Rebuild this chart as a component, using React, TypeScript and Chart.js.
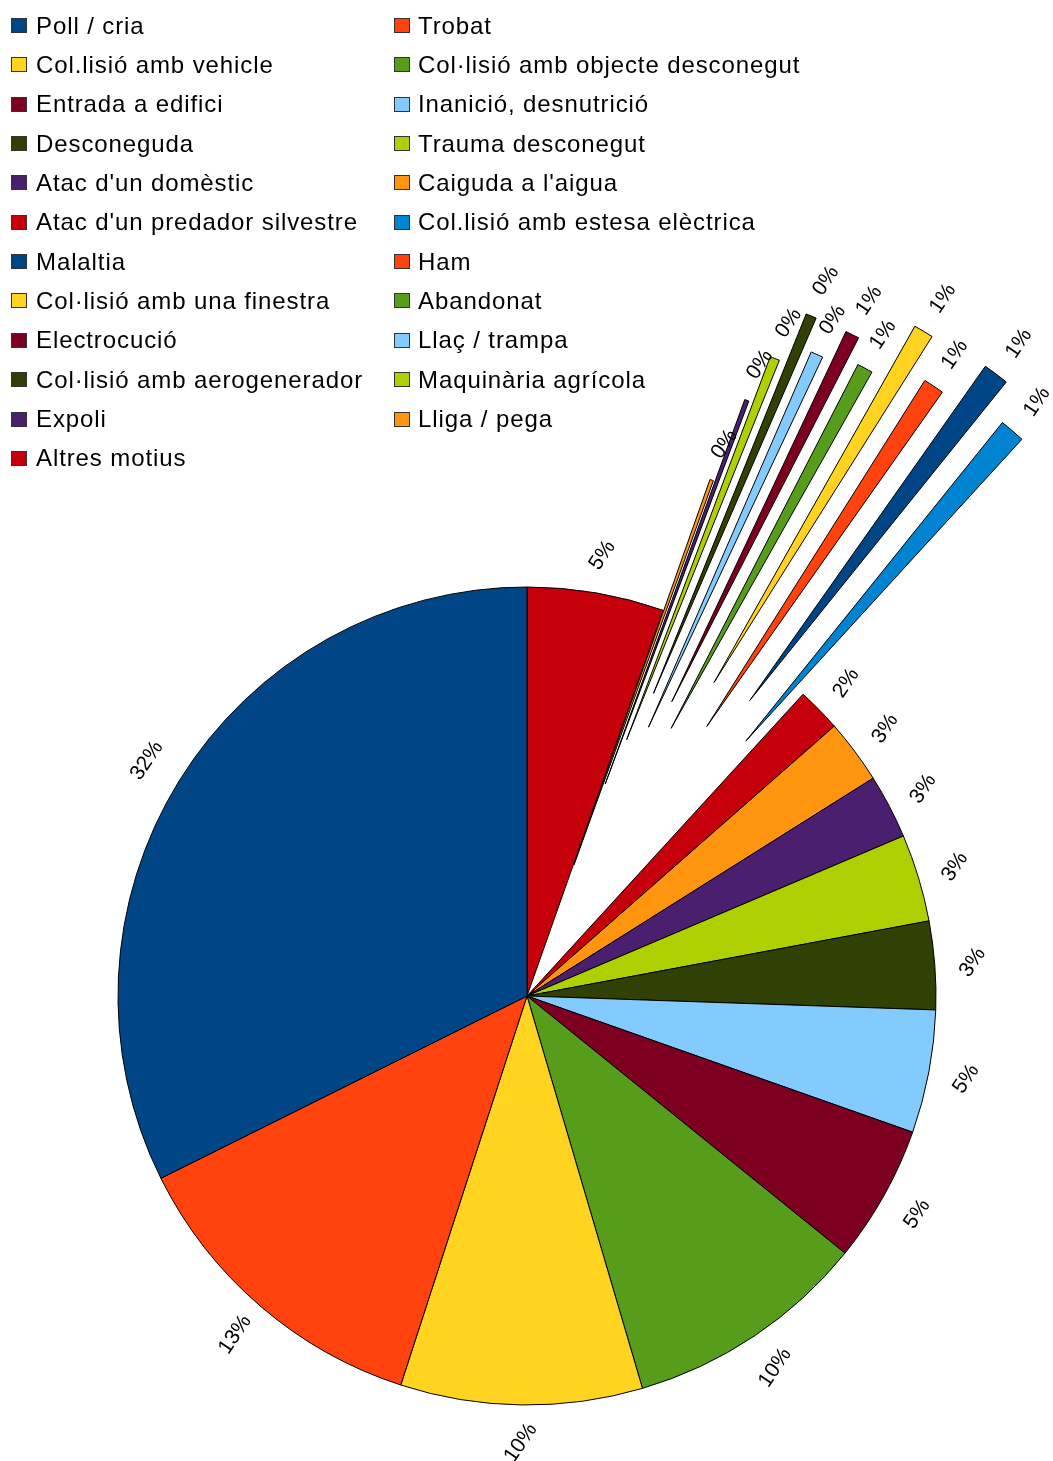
import React, { useEffect, useRef } from "react";
import { Chart, registerables } from "chart.js";

Chart.register(...registerables);

// Categories in legend order (the pie runs counter-clockwise from 12 o'clock in this order)
const categories: string[] = [
  "Poll / cria",
  "Trobat",
  "Col.lisió amb vehicle",
  "Col·lisió amb objecte desconegut",
  "Entrada a edifici",
  "Inanició, desnutrició",
  "Desconeguda",
  "Trauma desconegut",
  "Atac d'un domèstic",
  "Caiguda a l'aigua",
  "Atac d'un predador silvestre",
  "Col.lisió amb estesa elèctrica",
  "Malaltia",
  "Ham",
  "Col·lisió amb una finestra",
  "Abandonat",
  "Electrocució",
  "Llaç / trampa",
  "Col·lisió amb aerogenerador",
  "Maquinària agrícola",
  "Expoli",
  "Lliga / pega",
  "Altres motius",
];

// Shares (%)
const values: number[] = [
  32.35, 12.65, 9.55, 9.62, 5.42, 4.86, 3.48, 3.46, 2.54, 2.53, 1.74,
  1.0, 1.02, 0.82, 0.78, 0.62, 0.55, 0.49, 0.42, 0.38, 0.17, 0.14, 5.4,
];

const colors: string[] = [
  "#004586", "#ff420e", "#ffd320", "#579d1c", "#7e0021", "#83caff",
  "#314004", "#aecf00", "#4b1f6f", "#ff950e", "#c5000b", "#0084d1",
  "#004586", "#ff420e", "#ffd320", "#579d1c", "#7e0021", "#83caff",
  "#314004", "#aecf00", "#4b1f6f", "#ff950e", "#c5000b",
];

// Explosion distance (px) of each slice along its bisector (style)
const explode: number[] = [
  0, 0, 0, 0, 0, 0, 0, 0, 0, 0, 0,
  336, 370, 324, 365, 304, 328, 295, 328, 275, 226, 139, 0,
];

const W = 1053;
const H = 1461;
const PIE_R = 409;
const FONT = '"Liberation Sans", Arial, sans-serif';

export default function App() {
  const ref = useRef<HTMLCanvasElement>(null);

  useEffect(() => {
    const canvas = ref.current;
    if (!canvas) return;
    const n = categories.length;
    const order = categories.map((_, i) => n - 1 - i); // reverse => counter-clockwise look
    const total = values.reduce((a, b) => a + b, 0);
    const dLabels = order.map((i) => categories[i]);
    const dValues = order.map((i) => values[i]);
    const dColors = order.map((i) => colors[i]);
    const dExplode = order.map((i) => explode[i]);

    const explodePlugin = {
      id: "explodeSlices",
      beforeDatasetDraw(chart: any, args: any) {
        const ctx = chart.ctx;
        const meta = args.meta;
        meta.data.forEach((arc: any, j: number) => {
          const d = dExplode[j] || 0;
          const mid = (arc.startAngle + arc.endAngle) / 2;
          ctx.save();
          ctx.translate(Math.cos(mid) * d, Math.sin(mid) * d);
          arc.draw(ctx);
          ctx.restore();
        });
        return false;
      },
    };

    const overlayPlugin = {
      id: "overlay",
      afterDraw(chart: any) {
        const ctx = chart.ctx;
        // percentage labels
        const meta = chart.getDatasetMeta(0);
        ctx.save();
        ctx.font = `21px ${FONT}`;
        ctx.fillStyle = "#000";
        ctx.textAlign = "center";
        ctx.textBaseline = "middle";
        meta.data.forEach((arc: any, j: number) => {
          const mid = (arc.startAngle + arc.endAngle) / 2;
          const dist = (dExplode[j] || 0) + arc.outerRadius + 38;
          const lx = arc.x + Math.cos(mid) * dist;
          const ly = arc.y + Math.sin(mid) * dist;
          ctx.save();
          ctx.translate(lx, ly);
          ctx.rotate((-56 * Math.PI) / 180);
          ctx.fillText(Math.round((dValues[j] / total) * 100) + "%", 0, 0);
          ctx.restore();
        });
        ctx.restore();

        // legend: two columns, row-major
        ctx.save();
        ctx.font = `24px ${FONT}`;
        try { (ctx as any).letterSpacing = "0.9px"; } catch (e) {}
        ctx.textAlign = "left";
        ctx.textBaseline = "alphabetic";
        categories.forEach((name, i) => {
          const row = Math.floor(i / 2);
          const col = i % 2;
          const cy = 25.5 + row * 39.35;
          const bx = col === 0 ? 11 : 394;
          const tx = col === 0 ? 36 : 418;
          ctx.fillStyle = colors[i];
          ctx.fillRect(bx, Math.round(cy - 7.5), 16, 15);
          ctx.strokeStyle = "#333";
          ctx.lineWidth = 1;
          ctx.strokeRect(bx + 0.5, Math.round(cy - 7.5) + 0.5, 15, 14);
          ctx.fillStyle = "#000";
          ctx.fillText(name, tx, cy + 8);
        });
        ctx.restore();
      },
    };

    const chart = new Chart(canvas, {
      type: "pie",
      data: {
        labels: dLabels,
        datasets: [
          {
            data: dValues,
            backgroundColor: dColors,
            borderColor: "#000",
            borderWidth: 1,
            clip: false,
          } as any,
        ],
      },
      options: {
        responsive: false,
        animation: false,
        radius: PIE_R,
        events: [],
        layout: { padding: { left: 1, right: 0, top: 531, bottom: 0 } },
        plugins: {
          legend: { display: false },
          tooltip: { enabled: false },
        },
      } as any,
      plugins: [explodePlugin, overlayPlugin],
    });
    return () => chart.destroy();
  }, []);

  return (
    <div style={{ position: "absolute", left: 0, top: 0, width: W, height: H, background: "#fff" }}>
      <canvas ref={ref} width={W} height={H} style={{ display: "block" }} />
    </div>
  );
}
